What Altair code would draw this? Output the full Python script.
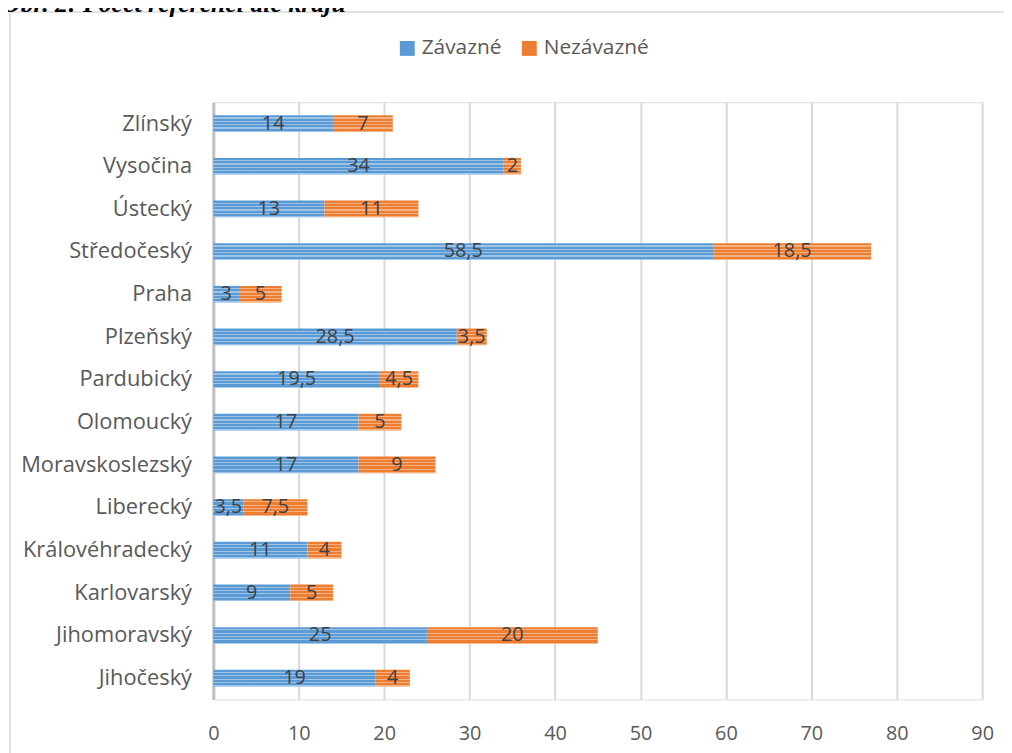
import altair as alt
import pandas as pd

kraje = ["Zlínský", "Vysočina", "Ústecký", "Středočeský", "Praha", "Plzeňský",
         "Pardubický", "Olomoucký", "Moravskoslezský", "Liberecký",
         "Královéhradecký", "Karlovarský", "Jihomoravský", "Jihočeský"]
zavazne = [14, 34, 13, 58.5, 3, 28.5, 19.5, 17, 17, 3.5, 11, 9, 25, 19]
nezavazne = [7, 2, 11, 18.5, 5, 3.5, 4.5, 5, 9, 7.5, 4, 5, 20, 4]
series = ["Závazné", "Nezávazné"]
colors = ["#5b9bd5", "#ed7d31"]
x_ticks = [0, 10, 20, 30, 40, 50, 60, 70, 80, 90]
title_text = "Obr. 2: Počet referencí dle krajů"

rows = []
for k, z, n in zip(kraje, zavazne, nezavazne):
    rows.append({"kraj": k, "serie": series[0], "start": 0, "end": z, "val": z})
    rows.append({"kraj": k, "serie": series[1], "start": z, "end": z + n, "val": n})
df = pd.DataFrame(rows)
df["mid"] = (df["start"] + df["end"]) / 2
df["label"] = df["val"].map(lambda v: (f"{v:g}").replace(".", ","))

FONT = "Open Sans"

yenc = alt.Y("kraj:N", sort=kraje,
             scale=alt.Scale(paddingInner=0.61, paddingOuter=0.305),
             axis=alt.Axis(title=None, ticks=False, labelPadding=22,
                           domainColor="#bfbfbf", domainWidth=3,
                           labelFont=FONT, labelFontSize=22, labelColor="#595959",
                           grid=False))
xscale = alt.Scale(domain=[0, 90], nice=False)

base = alt.Chart(df)

bars = base.mark_bar(strokeWidth=0).encode(
    x=alt.X("start:Q", scale=xscale,
            axis=alt.Axis(title=None, values=x_ticks, grid=True, gridColor="#d9d9d9",
                          gridWidth=2, domain=False, ticks=False, labelPadding=24,
                          labelFlush=False,
                          labelFont=FONT, labelFontSize=20, labelColor="#595959")),
    x2="end:Q",
    y=yenc,
    color=alt.Color("serie:N",
                    scale=alt.Scale(domain=series, range=colors),
                    legend=alt.Legend(title=None, orient="none", legendX=185, legendY=-65,
                                      direction="horizontal", symbolType="square",
                                      symbolSize=225, symbolStrokeWidth=0,
                                      labelFont=FONT, labelFontSize=21,
                                      labelColor="#595959", columnPadding=17,
                                      labelOffset=4)),
)

n_stripes = 5
stops = []
for i in range(n_stripes):
    a = i / n_stripes
    b = (i + 0.62) / n_stripes
    c = (i + 1) / n_stripes
    stops += [
        {"offset": a, "color": "rgba(255,255,255,0)"},
        {"offset": b, "color": "rgba(255,255,255,0)"},
        {"offset": b, "color": "rgba(255,255,255,0.4)"},
        {"offset": c, "color": "rgba(255,255,255,0.4)"},
    ]
stripe_fill = {"gradient": "linear", "x1": 0, "y1": 0, "x2": 0, "y2": 1, "stops": stops}

stripes = base.mark_bar(fill=stripe_fill, strokeWidth=0).encode(
    x=alt.X("start:Q", scale=xscale),
    x2="end:Q",
    y=alt.Y("kraj:N", sort=kraje),
)

labels = base.mark_text(font=FONT, fontSize=20, color="#404040", baseline="middle").encode(
    x=alt.X("mid:Q", scale=xscale),
    y=alt.Y("kraj:N", sort=kraje),
    text="label:N",
)

one = pd.DataFrame({"t": [title_text]})
border = alt.Chart(one).mark_rect(fillOpacity=0, stroke="#d9d9d9", strokeWidth=1.5).encode(
    x=alt.value(-205), x2=alt.value(820), y=alt.value(-91), y2=alt.value(680))
title = alt.Chart(one).mark_text(font="Liberation Serif", fontSize=26, fontWeight="bold",
                                 fontStyle="italic", align="left", baseline="alphabetic",
                                 color="#000000").encode(
    x=alt.value(-213), y=alt.value(-91), text="t:N")

chart = alt.layer(border, bars, stripes, labels, title).properties(
    width=775, height=602,
    autosize=alt.AutoSizeParams(type="none"),
    padding={"left": 207, "top": 92, "right": 22, "bottom": 51},
).configure_view(stroke=None).configure(background="white")

chart.save("out.html", embed_options={"renderer": "svg", "actions": False})
